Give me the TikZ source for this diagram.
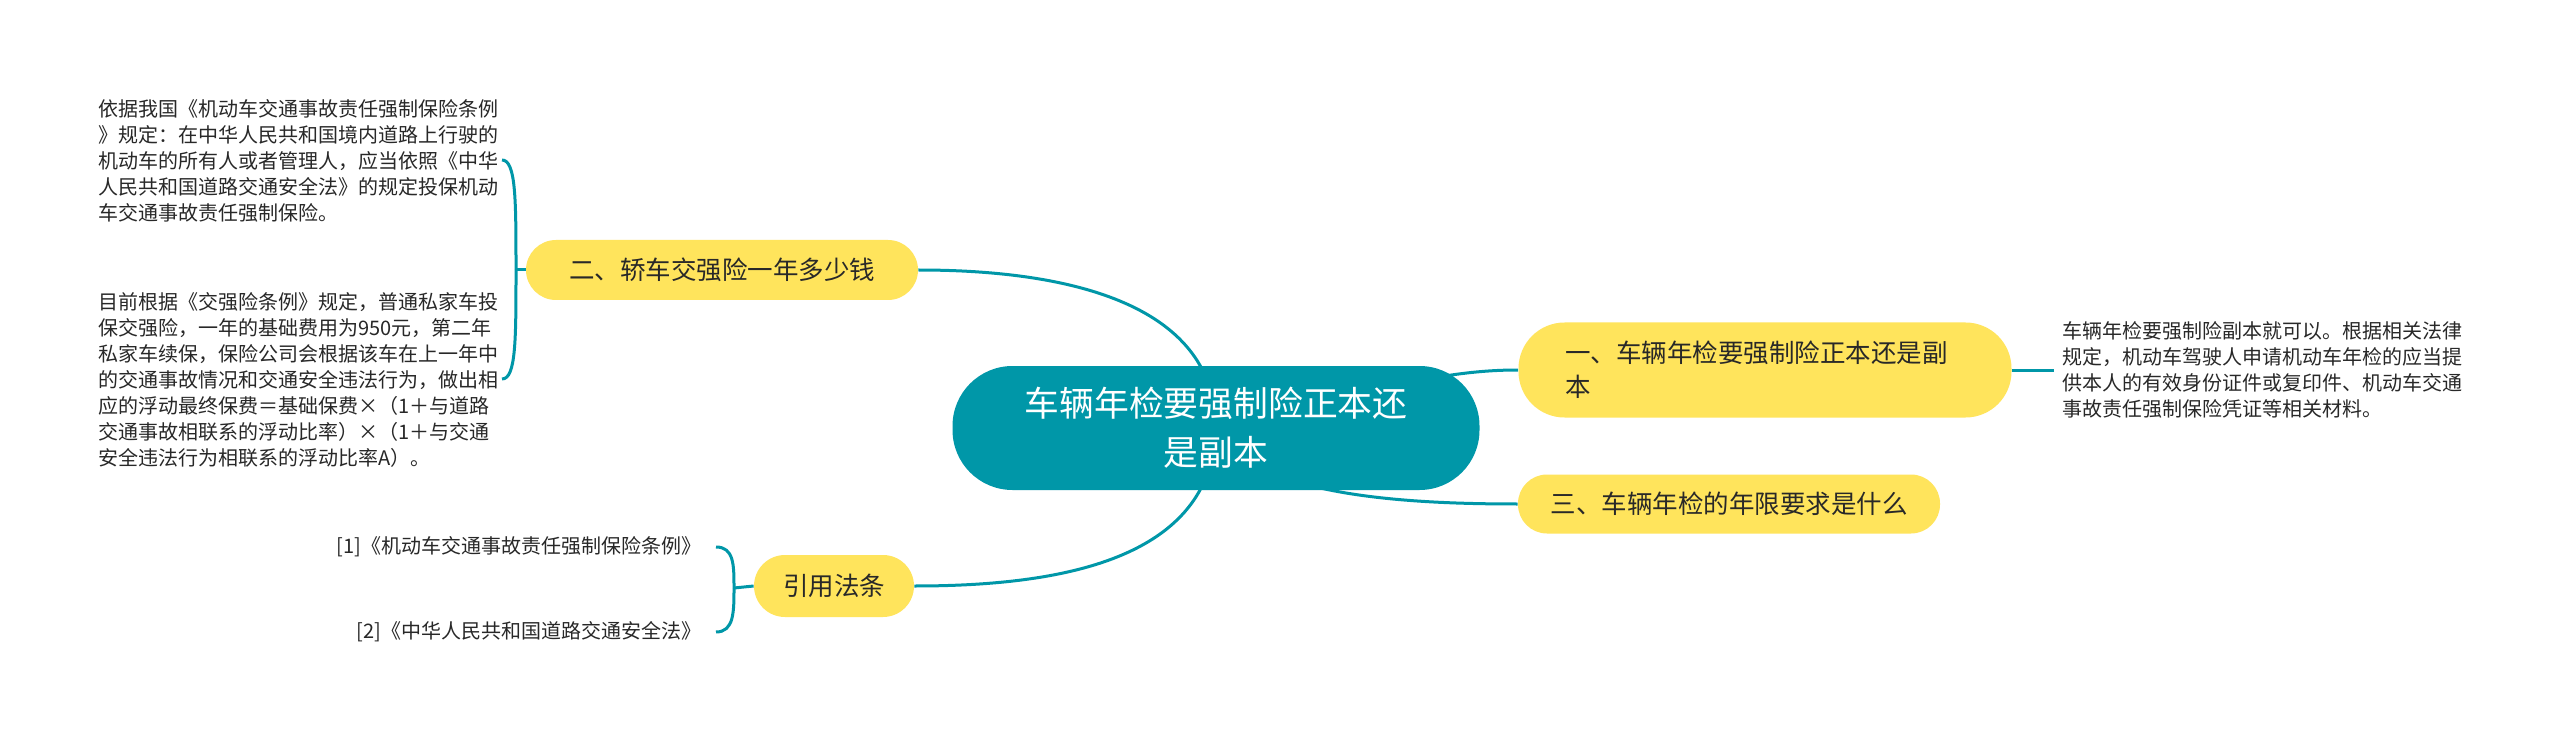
\documentclass[tikz,border=0pt]{standalone}
\usepackage{fontspec}
\setmainfont{Noto Sans CJK SC}
\usetikzlibrary{calc,backgrounds}
\definecolor{tealc}{RGB}{0,151,168}
\definecolor{yelc}{RGB}{255,228,92}
\definecolor{txtc}{RGB}{40,40,40}
\begin{document}
\begin{tikzpicture}[x=0.5pt,y=-0.5pt,
  link/.style={draw=tealc,line width=1.5pt},
  topic/.style={fill=yelc,text=txtc,font=\fontsize{12.75pt}{17pt}\selectfont,inner sep=0pt,align=center},
  leaf/.style={text=txtc,font=\fontsize{10pt}{13pt}\selectfont,inner ysep=0pt,inner xsep=4pt,align=left,text width=200pt},
  cite/.style={text=txtc,font=\fontsize{10pt}{13pt}\selectfont,inner sep=0pt}]
\useasboundingbox (0,0) rectangle (2560,743);

\node[fill=tealc,rounded corners=30pt,minimum width=263.5pt,minimum height=62pt,inner sep=0pt,
  text=white,font=\fontsize{17.4pt}{24.5pt}\selectfont,align=center] (c) at (1216,428)
  {车辆年检要强制险正本还\\是副本};

\node[topic,rounded corners=23pt,minimum width=246.5pt,minimum height=47.5pt,text width=200pt,align=left] (t1) at (1765,370)
  {一、车辆年检要强制险正本还是副\\本};
\node[topic,rounded corners=14.5pt,minimum width=211pt,minimum height=29.5pt] (t3) at (1729,504)
  {三、车辆年检的年限要求是什么};
\node[topic,rounded corners=15pt,minimum width=196pt,minimum height=30pt] (t2) at (722,270)
  {二、轿车交强险一年多少钱};
\node[topic,rounded corners=15.5pt,minimum width=80pt,minimum height=31pt] (t4) at (834,586)
  {引用法条};

\node[leaf,anchor=west] (r1) at (2054,370)
  {车辆年检要强制险副本就可以。根据相关法律\\规定，机动车驾驶人申请机动车年检的应当提\\供本人的有效身份证件或复印件、机动车交通\\事故责任强制保险凭证等相关材料。};

\node[leaf,anchor=west] (l1) at (90,161)
  {依据我国《机动车交通事故责任强制保险条例\\》规定：在中华人民共和国境内道路上行驶的\\机动车的所有人或者管理人，应当依照《中华\\人民共和国道路交通安全法》的规定投保机动\\车交通事故责任强制保险。};
\node[leaf,anchor=west] (l2) at (90,380)
  {目前根据《交强险条例》规定，普通私家车投\\保交强险，一年的基础费用为950元，第二年\\私家车续保，保险公司会根据该车在上一年中\\的交通事故情况和交通安全违法行为，做出相\\应的浮动最终保费＝基础保费×（1＋与道路\\交通事故相联系的浮动比率）×（1＋与交通\\安全违法行为相联系的浮动比率A）。};

\node[cite,anchor=east] (q1) at (702,547) {[1]《机动车交通事故责任强制保险条例》};
\node[cite,anchor=east] (q2) at (702,632) {[2]《中华人民共和国道路交通安全法》};

\coordinate (e1) at (502,160);
\coordinate (e2) at (502,379);
\coordinate (b2) at (516,270);
\coordinate (e3) at (716,547);
\coordinate (e4) at (716,632);
\coordinate (b4) at (734,588);

\begin{pgfonlayer}{background}
\fill[white] (0,0) rectangle (2560,743);
\draw[link] (c.center) .. controls (1215,300) and (1060,270) .. (t2.east);
\draw[link] (c.center) .. controls (1212,560) and (1060,586) .. (t4.east);
\draw[link] (c.center) .. controls (1390,385) and (1450,370) .. (t1.west);
\draw[link] (c.center) .. controls (1250,495) and (1400,504) .. (t3.west);
\end{pgfonlayer}
\draw[link] (t1.east) -- (r1.west);
\draw[link] (t2.west) -- (b2);
\draw[link] (e1) .. controls (516,160) and (516,200) .. (b2);
\draw[link] (b2) .. controls (516,340) and (516,379) .. (e2);
\draw[link] (t4.west) -- (b4);
\draw[link] (e3) .. controls (734,547) and (734,565) .. (b4);
\draw[link] (b4) .. controls (734,612) and (734,632) .. (e4);
\end{tikzpicture}
\end{document}
